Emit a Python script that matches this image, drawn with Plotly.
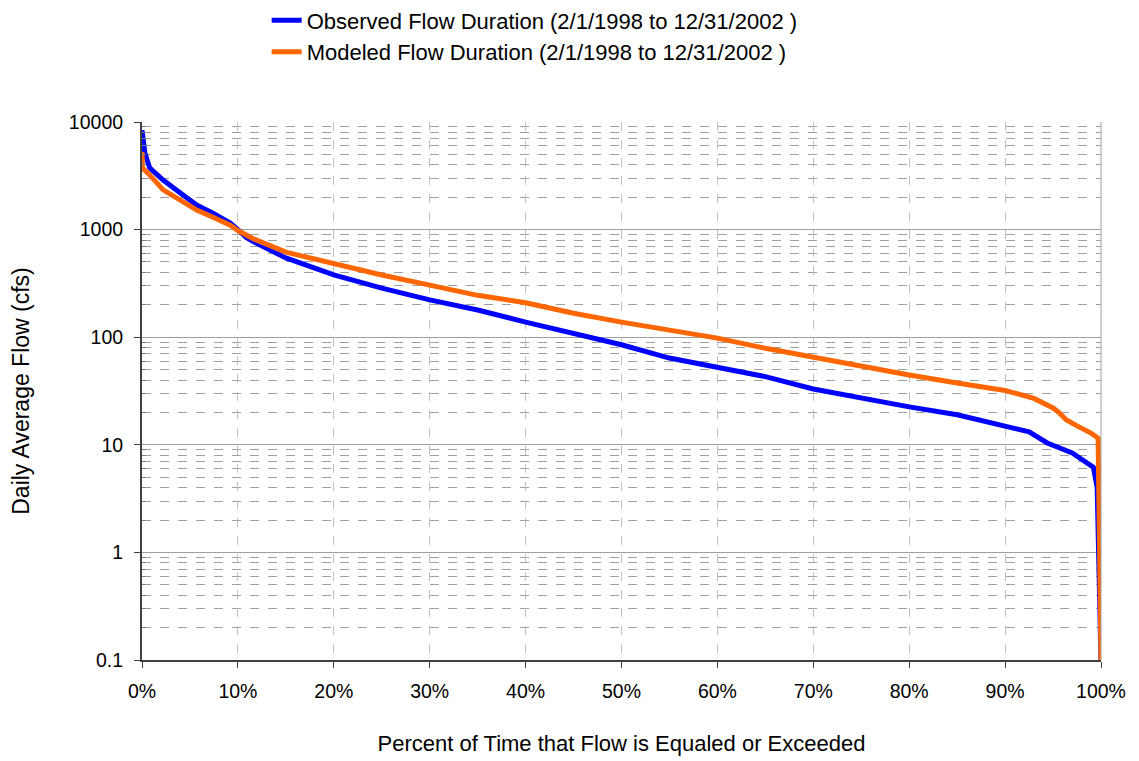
import plotly.graph_objects as go

# percent of time (0-100) and daily average flow (cfs)
obs_pct = [0, 0.3, 0.8, 2.2, 4, 5.7, 7.4, 9.2, 10, 10.9, 11.7, 15, 20, 25, 30, 35,
           40, 45, 50, 55, 60, 65, 70, 75, 80, 85, 90, 92.5, 94.4, 97, 99.2, 99.6, 100]
obs_flow = [8400, 5150, 3740, 2890, 2190, 1690, 1420, 1150, 1000, 840, 767, 545, 379,
            286, 222, 179, 138, 109, 85, 64, 53, 43, 33, 27, 22.5, 19, 14.7, 13.2,
            10.4, 8.4, 6.2, 4, 0.1]

mod_pct = [0, 0.05, 0.8, 2.2, 4, 5.7, 7.4, 9.2, 10, 10.9, 11.7, 15, 20, 25, 30, 35,
           40, 45, 50, 55, 60, 65, 70, 75, 80, 85, 90, 93, 95, 95.6, 96.4, 97.5, 99,
           99.7, 100]
mod_flow = [5260, 3740, 3220, 2340, 1880, 1520, 1300, 1100, 980, 890, 815, 617, 478,
            379, 305, 245, 209, 167, 138, 117, 98, 79, 65, 53, 44.5, 37.5, 32, 27, 22,
            20, 17, 15, 12.8, 11.5, 0.1]

y_ticks = [0.1, 1, 10, 100, 1000, 10000]
y_tick_text = ['0.1', '1', '10', '100', '1000', '10000']

minor_vals = [m * 10 ** e for e in range(-1, 4) for m in range(2, 10)]

fig = go.Figure()

fig.add_trace(go.Scatter(
    x=[p / 100 for p in obs_pct],
    y=obs_flow,
    mode='lines',
    name='Observed Flow Duration (2/1/1998 to 12/31/2002 )',
    line=dict(color='#0000FF', width=5)
))

fig.add_trace(go.Scatter(
    x=[p / 100 for p in mod_pct],
    y=mod_flow,
    mode='lines',
    name='Modeled Flow Duration (2/1/1998 to 12/31/2002 )',
    line=dict(color='#FF6600', width=5)
))

# right border of the plot area
fig.add_shape(type='line', xref='paper', yref='paper', x0=1, x1=1, y0=0, y1=1,
              line=dict(color='#a0a0a0', width=1))

# page body adds an 8px offset, so the figure is a bit smaller than the window
fig.update_layout(
    width=1131,
    height=753,
    plot_bgcolor='white',
    paper_bgcolor='white',
    margin=dict(l=134, r=38, t=114, b=101, autoexpand=False),
    font=dict(family='Liberation Sans, Arial', size=19.5, color='black'),
    legend=dict(
        x=0.130, y=1.228, xanchor='left', yanchor='top',
        bgcolor='rgba(0,0,0,0)',
        font=dict(size=22)
    ),
    xaxis=dict(
        range=[0, 1],
        dtick=0.1,
        tickformat='.0%',
        showgrid=True,
        gridcolor='#c0c0c0',
        griddash='dash',
        showline=True,
        linecolor='#404040',
        linewidth=2,
        ticks='outside',
        ticklen=6,
        tickcolor='#404040',
        ticklabelstandoff=7,
        zeroline=False,
        automargin=False,
        title=dict(text='Percent of Time that Flow is Equaled or Exceeded',
                   font=dict(size=22), standoff=34)
    ),
    yaxis=dict(
        type='log',
        range=[-1, 4],
        tickvals=y_ticks,
        ticktext=y_tick_text,
        showgrid=True,
        gridcolor='#a0a0a0',
        showline=True,
        linecolor='#404040',
        linewidth=2,
        ticks='outside',
        ticklen=6,
        tickcolor='#404040',
        ticklabelstandoff=7,
        zeroline=False,
        automargin=False,
        minor=dict(
            tickvals=minor_vals,
            showgrid=True,
            gridcolor='#a0a0a0',
            griddash='dash',
            ticks='inside',
            ticklen=4,
            tickcolor='#808080'
        ),
        title=dict(text='Daily Average Flow (cfs)', font=dict(size=23), standoff=38)
    ),
    showlegend=True
)

fig.write_html("out.html")
